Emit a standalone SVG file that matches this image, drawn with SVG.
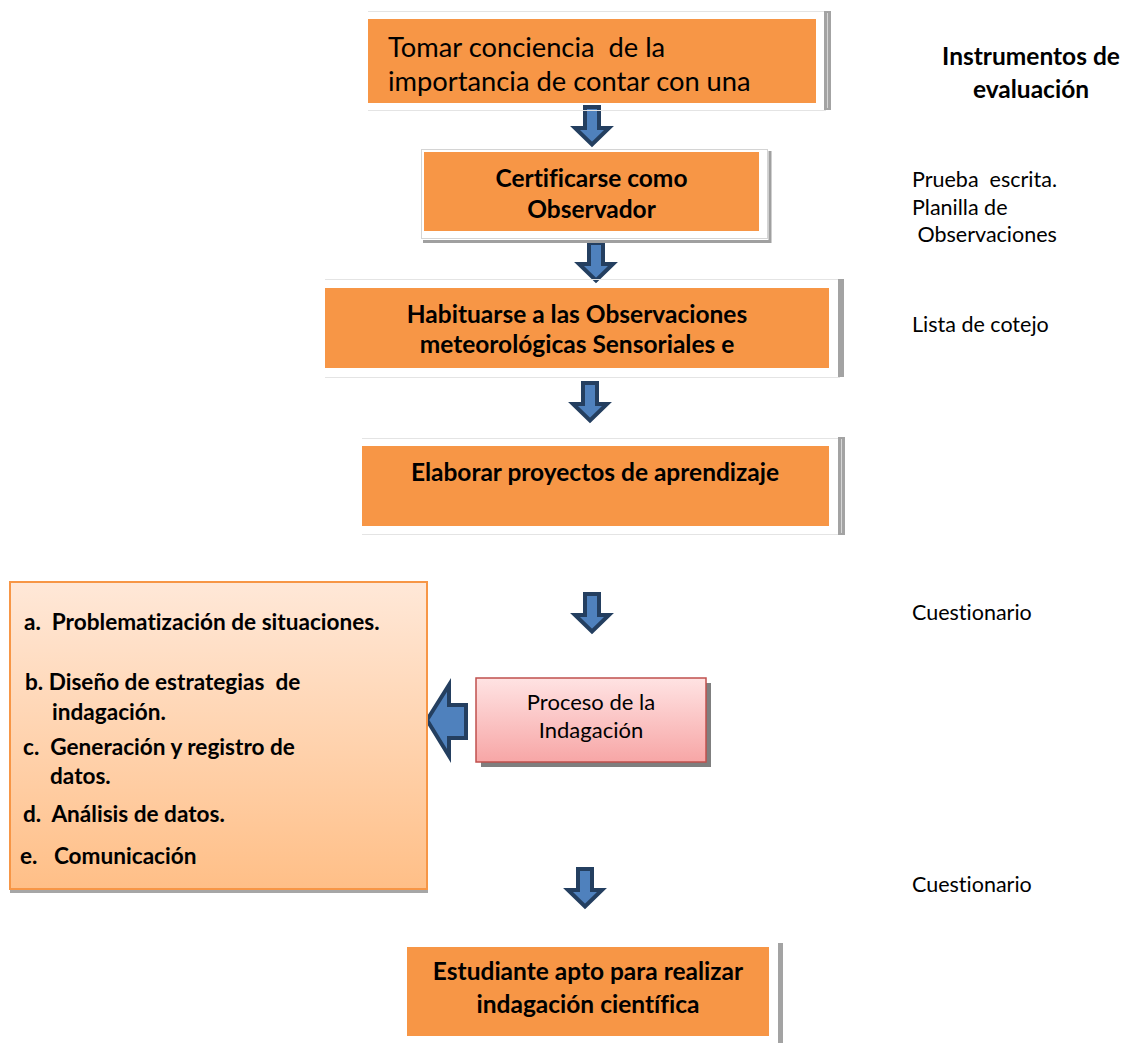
<svg xmlns="http://www.w3.org/2000/svg" width="1133" height="1043" viewBox="0 0 1133 1043">
<style>
.bg{fill:#FFFFFF}
.orange{fill:#F79646}
.thin{stroke:#E4E4E4;stroke-width:1;fill:none}
.bar{fill:#A3A3A3}
.barIn{stroke:#D6D6D6;stroke-width:1}
.t{font-family:Lato,"Liberation Sans",sans-serif;fill:#000000;white-space:pre;font-variant-ligatures:none;font-feature-settings:"liga" 0,"dlig" 0}
.reg{font-weight:400}
.bold{font-weight:700}
.arrow{fill:#4F81BD;stroke:#243F60;stroke-width:4;stroke-linejoin:miter}
</style>
<defs>
<path id="down" d="M-7,2 H7 V23 H17 L0,39.5 L-17,23 H-7 Z"/>
<linearGradient id="listGrad" x1="0" y1="0" x2="0" y2="1">
<stop offset="0" stop-color="#FFE8D8"/>
<stop offset="1" stop-color="#FFBF87"/>
</linearGradient>
<linearGradient id="procGrad" x1="0" y1="0" x2="0" y2="1">
<stop offset="0" stop-color="#FFE3E3"/>
<stop offset="1" stop-color="#F7A6A6"/>
</linearGradient>
<clipPath id="clip1"><rect x="368" y="19" width="448" height="84"/></clipPath>
</defs>
<rect class="bg" x="0" y="0" width="1133" height="1043"/>

<g id="connectors">
<use href="#down" class="arrow" x="592" y="105"/>
<use href="#down" class="arrow" x="596" y="241"/>
<use href="#down" class="arrow" x="590" y="381"/>
<use href="#down" class="arrow" x="592" y="592"/>
<use href="#down" class="arrow" x="585" y="867"/>
<path class="arrow" d="M427,720 L449,685 V705 H466 V738 H449 V756 Z"/>
</g>

<g id="node-tomar">
<line class="thin" x1="368" y1="11.5" x2="826" y2="11.5"/>
<line class="thin" x1="368" y1="110.5" x2="826" y2="110.5"/>
<rect class="bar" x="824" y="11" width="7" height="99"/>
<line class="barIn" x1="827.5" y1="13" x2="827.5" y2="108"/>
<rect class="orange" x="368" y="19" width="448" height="84"/>
<g clip-path="url(#clip1)">
<text class="t reg" x="388" y="57" font-size="27.3">Tomar conciencia  de la</text>
<text class="t reg" x="388" y="91" font-size="27.3">importancia de contar con una</text>
</g>
</g>

<g id="node-certificarse">
<polyline points="770,151 770,241.5 423,241.5" fill="none" stroke="#A0A0A0" stroke-width="3"/>
<rect x="421.5" y="149.5" width="346" height="89" fill="#FFFFFF" stroke="#D4D4D4" stroke-width="1"/>
<rect class="orange" x="424" y="152" width="335" height="79"/>
<text class="t bold" x="591.5" y="187" font-size="24.5" text-anchor="middle">Certificarse como</text>
<text class="t bold" x="591.5" y="218" font-size="24.5" text-anchor="middle">Observador</text>
</g>

<g id="node-habituarse">
<line class="thin" x1="325" y1="279.5" x2="840" y2="279.5"/>
<line class="thin" x1="325" y1="377.5" x2="840" y2="377.5"/>
<rect class="bar" x="838" y="279" width="6" height="98"/>
<rect class="orange" x="325" y="288" width="504" height="80"/>
<text class="t bold" x="577" y="323" font-size="24.5" text-anchor="middle">Habituarse a las Observaciones</text>
<text class="t bold" x="577" y="353" font-size="24.5" text-anchor="middle">meteorológicas Sensoriales e</text>
</g>

<g id="node-elaborar">
<line class="thin" x1="362" y1="438.5" x2="840" y2="438.5"/>
<line class="thin" x1="362" y1="534.5" x2="840" y2="534.5"/>
<rect class="bar" x="838" y="437" width="7" height="98"/>
<line class="barIn" x1="841.5" y1="439" x2="841.5" y2="533"/>
<rect class="orange" x="362" y="446" width="467" height="80"/>
<text class="t bold" x="595" y="481" font-size="24.5" text-anchor="middle">Elaborar proyectos de aprendizaje</text>
</g>

<g id="node-lista">
<rect x="10" y="585" width="418" height="308" fill="#A6A6A6"/>
<rect x="10" y="582" width="417" height="307" fill="url(#listGrad)" stroke="#F79646" stroke-width="2"/>
<text class="t bold" x="24" y="630" font-size="22.6">a.  Problematización de situaciones.</text>
<text class="t bold" x="25" y="690" font-size="22.6">b. Diseño de estrategias  de</text>
<text class="t bold" x="52" y="720" font-size="22.6">indagación.</text>
<text class="t bold" x="23" y="755" font-size="22.6">c.  Generación y registro de</text>
<text class="t bold" x="50" y="784" font-size="22.6">datos.</text>
<text class="t bold" x="23" y="822" font-size="22.6">d.  Análisis de datos.</text>
<text class="t bold" x="20" y="864" font-size="22.6">e.   Comunicación</text>
</g>

<g id="node-proceso">
<rect x="481" y="683" width="230" height="84" fill="#7F7F7F"/>
<rect x="476" y="678" width="230" height="84" fill="url(#procGrad)" stroke="#C0504D" stroke-width="1.5"/>
<text class="t reg" x="591" y="710" font-size="22" text-anchor="middle">Proceso de la</text>
<text class="t reg" x="591" y="738" font-size="22" text-anchor="middle">Indagación</text>
</g>

<g id="node-estudiante">
<rect class="bar" x="778" y="943" width="5" height="100"/>
<rect class="orange" x="407" y="947" width="362" height="89"/>
<text class="t bold" x="588" y="980" font-size="24.5" text-anchor="middle">Estudiante apto para realizar</text>
<text class="t bold" x="588" y="1013" font-size="24.5" text-anchor="middle">indagación científica</text>
</g>

<g id="instrumentos">
<text class="t bold" x="1031" y="65" font-size="24.5" text-anchor="middle">Instrumentos de</text>
<text class="t bold" x="1031" y="98" font-size="24.5" text-anchor="middle">evaluación</text>
<text class="t reg" x="912" y="187" font-size="21.5">Prueba  escrita.</text>
<text class="t reg" x="912" y="215" font-size="21.5">Planilla de</text>
<text class="t reg" x="912" y="242" font-size="21.5"> Observaciones</text>
<text class="t reg" x="912" y="332" font-size="21.5">Lista de cotejo</text>
<text class="t reg" x="912" y="620" font-size="21.5">Cuestionario</text>
<text class="t reg" x="912" y="892" font-size="21.5">Cuestionario</text>
</g>
</svg>
